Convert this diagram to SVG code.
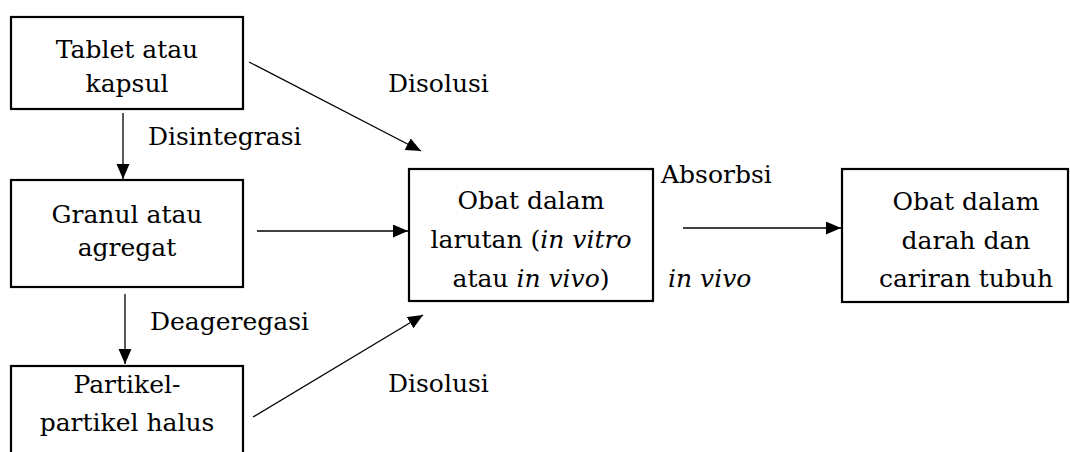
<svg xmlns="http://www.w3.org/2000/svg" width="1070" height="452" viewBox="0 0 1070 452">
  <style>
    .box { fill: #ffffff; stroke: #000000; stroke-width: 2.2; }
    text { font-family: "DejaVu Serif", "Liberation Serif", serif; font-size: 25px; fill: #000000; }
    .c { text-anchor: middle; }
    .i { font-style: italic; }
    .ln { stroke: #000000; stroke-width: 1.3; fill: none; marker-end: url(#ah); }
  </style>
  <defs>
    <marker id="ah" markerUnits="userSpaceOnUse" markerWidth="16" markerHeight="14" refX="15" refY="6.5" orient="auto">
      <path d="M0,0 L15,6.5 L0,13 Z" fill="#000000"/>
    </marker>
  </defs>
  <rect width="1070" height="452" fill="#ffffff"/>

  <g id="connectors">
    <line class="ln" x1="123" y1="113" x2="123" y2="179"/>
    <line class="ln" x1="125" y1="294" x2="125" y2="364"/>
    <line class="ln" x1="257" y1="231" x2="408" y2="231"/>
    <line class="ln" x1="249" y1="62" x2="421" y2="151"/>
    <line class="ln" x1="253" y1="417" x2="423" y2="315"/>
    <line class="ln" x1="683" y1="228" x2="841" y2="228"/>
  </g>

  <g id="labels">
    <text x="388" y="92">Disolusi</text>
    <text x="148" y="145">Disintegrasi</text>
    <text x="150" y="330">Deageregasi</text>
    <text x="388" y="392">Disolusi</text>
    <text x="661" y="183">Absorbsi</text>
    <text class="i" x="668" y="287">in vivo</text>
  </g>

  <g id="node-tablet">
    <rect class="box" x="11" y="17" width="232" height="92"/>
    <text class="c" x="127" y="58">Tablet atau</text>
    <text class="c" x="127" y="92">kapsul</text>
  </g>

  <g id="node-granul">
    <rect class="box" x="11" y="180" width="232" height="107"/>
    <text class="c" x="127" y="223">Granul atau</text>
    <text class="c" x="127" y="256">agregat</text>
  </g>

  <g id="node-partikel">
    <rect class="box" x="11" y="366" width="232" height="110"/>
    <text class="c" x="127" y="393">Partikel-</text>
    <text class="c" x="127" y="431">partikel halus</text>
  </g>

  <g id="node-larutan">
    <rect class="box" x="409" y="169" width="244" height="132"/>
    <text class="c" x="531" y="209">Obat dalam</text>
    <text class="c" x="531" y="248">larutan (<tspan class="i">in vitro</tspan></text>
    <text class="c" x="531" y="287">atau <tspan class="i">in vivo</tspan>)</text>
  </g>

  <g id="node-darah">
    <rect class="box" x="842" y="169" width="226" height="133"/>
    <text class="c" x="966" y="210">Obat dalam</text>
    <text class="c" x="966" y="249">darah dan</text>
    <text class="c" x="966" y="287">cariran tubuh</text>
  </g>
</svg>
